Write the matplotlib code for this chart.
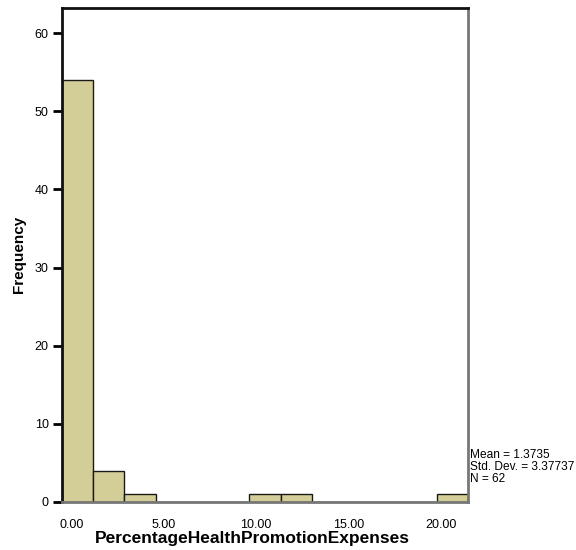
import matplotlib
matplotlib.use("Agg")
import matplotlib.pyplot as plt
import numpy as np

plt.rcParams['font.family'] = ['Liberation Sans', 'DejaVu Sans']

# Histogram bins (13 equal-width bins) and their frequencies
bin_edges = np.linspace(-0.5, 21.45, 14)
counts = [54, 4, 1, 0, 0, 0, 1, 1, 0, 0, 0, 0, 1]
x_ticks = [0, 5, 10, 15, 20]
x_tick_labels = ["0.00", "5.00", "10.00", "15.00", "20.00"]
y_ticks = [0, 10, 20, 30, 40, 50, 60]
stats_lines = ["Mean = 1.3735", "Std. Dev. = 3.37737", "N = 62"]

W, H = 576, 550
fig = plt.figure(figsize=(W / 100, H / 100), dpi=100)
ax = fig.add_axes([62 / W, 48 / H, 406 / W, 494 / H])

widths = np.diff(bin_edges)
ax.bar(bin_edges[:-1], counts, width=widths, align='edge',
       color='#D3CE97', edgecolor='#1a1a1a', linewidth=1.0)

ax.set_xlim(bin_edges[0], bin_edges[-1])
ax.set_ylim(0, 63.2)

ax.set_xticks(x_ticks)
ax.set_xticklabels(x_tick_labels)
ax.set_yticks(y_ticks)
ax.tick_params(axis='x', length=0, pad=12, labelsize=9)
ax.tick_params(axis='y', direction='out', length=6.5, width=2, pad=3, labelsize=9)

for side in ('left', 'top'):
    ax.spines[side].set_color('#111111')
    ax.spines[side].set_linewidth(2)
for side in ('right', 'bottom'):
    ax.spines[side].set_color('#777777')
    ax.spines[side].set_linewidth(2)

# Axis titles
fig.text(252.5 / W, 1 - 539 / H, "PercentageHealthPromotionExpenses",
         fontsize=12.5, fontweight='bold', ha='center', va='center')
fig.text(19 / W, 1 - 254 / H, "Frequency", fontsize=11, fontweight='bold',
         rotation=90, ha='center', va='center')

# Summary statistics next to the plot
for i, line in enumerate(stats_lines):
    fig.text(469.5 / W, 1 - (455 + 12 * i) / H, line, fontsize=8.6,
             ha='left', va='center')

fig.savefig("out.png", dpi=100)
